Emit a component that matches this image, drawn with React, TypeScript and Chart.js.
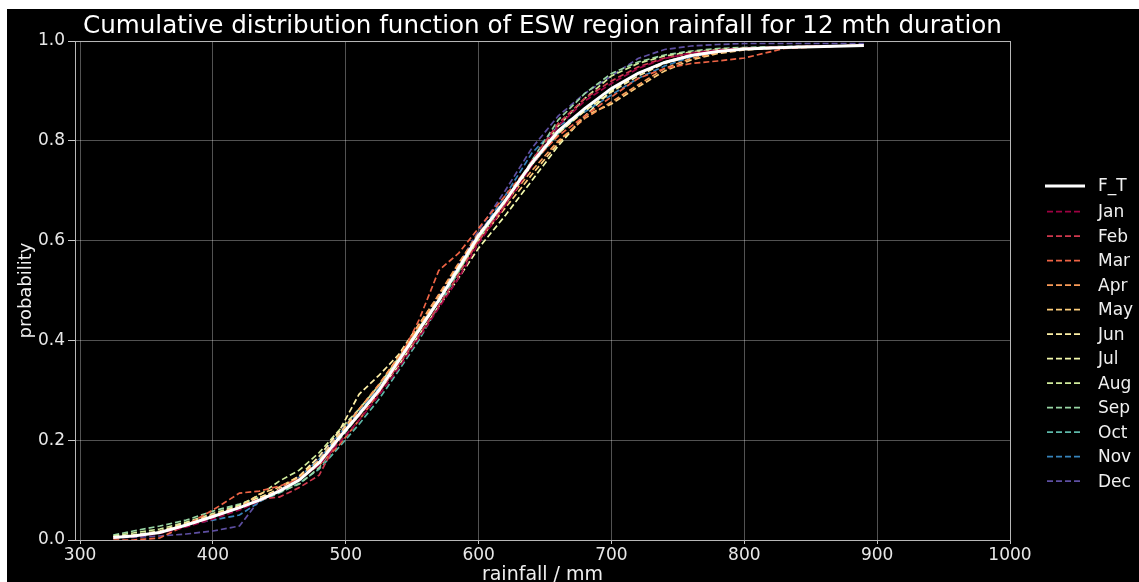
import React, { useEffect, useRef } from "react";
import { Chart, registerables } from "chart.js";

Chart.register(...registerables);

const TITLE = "Cumulative distribution function of ESW region rainfall for 12 mth duration";
const X_LABEL = "rainfall / mm";
const Y_LABEL = "probability";

const RAIN_GRID = [325, 340, 360, 380, 400, 420, 435, 450, 465, 480, 495, 510, 525, 540, 555, 570, 585, 600, 620, 640, 660, 680, 700, 720, 740, 760, 780, 800, 830, 860, 890];

const PROB_FT = [0.005, 0.008, 0.015, 0.030, 0.047, 0.065, 0.080, 0.098, 0.120, 0.155, 0.205, 0.252, 0.300, 0.360, 0.420, 0.480, 0.545, 0.610, 0.680, 0.755, 0.820, 0.865, 0.905, 0.935, 0.957, 0.971, 0.979, 0.984, 0.987, 0.989, 0.991];
const PROB_JAN = [0.005, 0.007, 0.013, 0.026, 0.042, 0.060, 0.078, 0.100, 0.122, 0.150, 0.195, 0.240, 0.290, 0.345, 0.405, 0.465, 0.525, 0.595, 0.670, 0.750, 0.830, 0.880, 0.915, 0.945, 0.965, 0.976, 0.982, 0.985, 0.988, 0.990, 0.991];
const PROB_FEB = [0.004, 0.007, 0.014, 0.028, 0.045, 0.066, 0.082, 0.086, 0.105, 0.130, 0.205, 0.248, 0.296, 0.352, 0.410, 0.470, 0.532, 0.600, 0.672, 0.760, 0.835, 0.885, 0.920, 0.948, 0.966, 0.975, 0.981, 0.985, 0.988, 0.990, 0.991];
const PROB_MAR = [0.000, 0.000, 0.004, 0.030, 0.060, 0.094, 0.098, 0.108, 0.122, 0.150, 0.190, 0.240, 0.295, 0.360, 0.440, 0.540, 0.575, 0.625, 0.690, 0.755, 0.810, 0.850, 0.888, 0.925, 0.945, 0.955, 0.960, 0.966, 0.985, 0.989, 0.991];
const PROB_APR = [0.004, 0.008, 0.016, 0.032, 0.050, 0.066, 0.082, 0.100, 0.124, 0.158, 0.205, 0.262, 0.312, 0.368, 0.430, 0.492, 0.555, 0.615, 0.675, 0.740, 0.800, 0.845, 0.878, 0.912, 0.945, 0.965, 0.977, 0.983, 0.987, 0.989, 0.991];
const PROB_MAY = [0.005, 0.009, 0.016, 0.031, 0.048, 0.066, 0.092, 0.106, 0.128, 0.160, 0.212, 0.262, 0.310, 0.368, 0.428, 0.484, 0.545, 0.600, 0.665, 0.732, 0.795, 0.850, 0.874, 0.908, 0.940, 0.962, 0.975, 0.982, 0.987, 0.989, 0.991];
const PROB_JUN = [0.006, 0.010, 0.018, 0.034, 0.050, 0.068, 0.085, 0.102, 0.128, 0.168, 0.218, 0.292, 0.330, 0.372, 0.432, 0.490, 0.552, 0.612, 0.680, 0.752, 0.815, 0.860, 0.898, 0.930, 0.955, 0.970, 0.979, 0.984, 0.987, 0.989, 0.991];
const PROB_JUL = [0.005, 0.009, 0.017, 0.032, 0.049, 0.067, 0.084, 0.100, 0.120, 0.156, 0.205, 0.252, 0.298, 0.350, 0.410, 0.468, 0.525, 0.585, 0.650, 0.720, 0.790, 0.850, 0.900, 0.935, 0.958, 0.972, 0.980, 0.985, 0.988, 0.990, 0.991];
const PROB_AUG = [0.008, 0.014, 0.022, 0.036, 0.053, 0.070, 0.090, 0.118, 0.140, 0.175, 0.220, 0.262, 0.310, 0.366, 0.425, 0.482, 0.540, 0.602, 0.672, 0.752, 0.830, 0.885, 0.930, 0.955, 0.970, 0.978, 0.983, 0.986, 0.988, 0.990, 0.991];
const PROB_SEP = [0.010, 0.018, 0.028, 0.040, 0.058, 0.072, 0.085, 0.096, 0.112, 0.145, 0.200, 0.250, 0.300, 0.358, 0.418, 0.478, 0.540, 0.605, 0.678, 0.760, 0.842, 0.895, 0.935, 0.958, 0.972, 0.980, 0.985, 0.987, 0.989, 0.990, 0.991];
const PROB_OCT = [0.004, 0.008, 0.015, 0.030, 0.046, 0.064, 0.078, 0.094, 0.114, 0.142, 0.186, 0.232, 0.282, 0.340, 0.400, 0.470, 0.538, 0.605, 0.678, 0.752, 0.815, 0.862, 0.902, 0.935, 0.958, 0.972, 0.980, 0.985, 0.988, 0.990, 0.991];
const PROB_NOV = [0.005, 0.009, 0.016, 0.030, 0.040, 0.050, 0.076, 0.100, 0.126, 0.162, 0.212, 0.258, 0.305, 0.362, 0.422, 0.482, 0.545, 0.612, 0.690, 0.775, 0.830, 0.858, 0.892, 0.925, 0.950, 0.968, 0.978, 0.984, 0.987, 0.989, 0.991];
const PROB_DEC = [0.005, 0.005, 0.008, 0.012, 0.018, 0.028, 0.080, 0.102, 0.128, 0.165, 0.215, 0.262, 0.308, 0.364, 0.425, 0.487, 0.552, 0.620, 0.700, 0.785, 0.850, 0.895, 0.930, 0.965, 0.983, 0.990, 0.993, 0.995, 0.995, 0.995, 0.995];

const MONTHS = ["Jan", "Feb", "Mar", "Apr", "May", "Jun", "Jul", "Aug", "Sep", "Oct", "Nov", "Dec"];
const MONTH_PROBS = [PROB_JAN, PROB_FEB, PROB_MAR, PROB_APR, PROB_MAY, PROB_JUN, PROB_JUL, PROB_AUG, PROB_SEP, PROB_OCT, PROB_NOV, PROB_DEC];
const MONTH_COLORS = ["#9e0142", "#d0384e", "#ee6445", "#fb9c59", "#fece7c", "#fff1a7", "#f4faad", "#d1ec9c", "#98d6a4", "#5db8a9", "#3683bb", "#5e4fa2"];

const X_TICKS = [300, 400, 500, 600, 700, 800, 900, 1000];
const Y_TICKS = [0, 0.2, 0.4, 0.6, 0.8, 1.0];

const FONT = "DejaVu Sans";

const frameAndLegend = {
  id: "frameAndLegend",
  afterDatasetsDraw(chart: any) {
    const { ctx, chartArea } = chart;
    ctx.save();
    ctx.strokeStyle = "#b8b8b8";
    ctx.lineWidth = 1;
    ctx.setLineDash([]);
    ctx.strokeRect(chartArea.left + 0.5, chartArea.top + 0.5, chartArea.right - chartArea.left, chartArea.bottom - chartArea.top);
    ctx.restore();
  },
  afterDraw(chart: any) {
    const { ctx, chartArea } = chart;
    const x0 = chartArea.right + 35;
    const x1 = x0 + 40;
    const tx = x0 + 53;
    ctx.save();
    ctx.font = `17px "${FONT}"`;
    ctx.textBaseline = "middle";
    ctx.textAlign = "left";
    chart.data.datasets.forEach((ds: any, i: number) => {
      const y = i === 0 ? 177 : 202.7 + (i - 1) * 24.5;
      ctx.beginPath();
      ctx.strokeStyle = ds.borderColor;
      ctx.lineWidth = ds.borderWidth;
      ctx.setLineDash(ds.borderDash || []);
      const a = i === 0 ? x0 : x0 + 2;
      const b = i === 0 ? x1 : x1 - 2;
      ctx.moveTo(a, y);
      ctx.lineTo(b, y);
      ctx.stroke();
      ctx.setLineDash([]);
      ctx.fillStyle = "#f0f0f0";
      ctx.fillText(ds.label, tx, y + 1);
    });
    ctx.restore();
  },
};

export default function App() {
  const canvasRef = useRef<HTMLCanvasElement | null>(null);

  useEffect(() => {
    if (!canvasRef.current) return;
    const datasets: any[] = [
      {
        label: "F_T",
        data: RAIN_GRID.map((x, i) => ({ x, y: PROB_FT[i] })),
        borderColor: "#ffffff",
        borderWidth: 3,
        pointRadius: 0,
        tension: 0,
      },
      ...MONTHS.map((m, k) => ({
        label: m,
        data: RAIN_GRID.map((x, i) => ({ x, y: MONTH_PROBS[k][i] })),
        borderColor: MONTH_COLORS[k],
        borderWidth: 1.7,
        borderDash: [6, 3],
        pointRadius: 0,
        tension: 0,
      })),
    ];

    const chart = new Chart(canvasRef.current, {
      type: "line",
      data: { datasets },
      options: {
        animation: false,
        responsive: true,
        maintainAspectRatio: false,
        layout: { padding: { left: 0, right: 129, top: 0, bottom: 0 } },
        plugins: {
          legend: { display: false },
          tooltip: { enabled: false },
          title: {
            display: true,
            text: TITLE,
            color: "#ffffff",
            fullSize: false,
            font: { family: FONT, size: 24.6, weight: "normal" },
            padding: { top: 2.5, bottom: 0 },
          },
        },
        scales: {
          x: {
            type: "linear",
            min: 296.2,
            max: 1000,
            afterBuildTicks: (scale: any) => {
              scale.ticks = X_TICKS.map((v) => ({ value: v }));
            },
            afterFit: (scale: any) => {
              scale.height = 42;
            },
            grid: {
              color: "rgba(255,255,255,0.32)",
              tickColor: "#c8c8c8",
              tickLength: 4,
              lineWidth: 1,
            },
            border: { display: false },
            ticks: {
              color: "#e8e8e8",
              padding: 1,
              font: { family: FONT, size: 17 },
              maxRotation: 0,
              callback: (v: any) => String(v),
            },
            title: {
              display: true,
              text: X_LABEL,
              color: "#f0f0f0",
              font: { family: FONT, size: 19 },
              padding: { top: 0, bottom: -4 },
            },
          },
          y: {
            type: "linear",
            min: 0,
            max: 1,
            afterBuildTicks: (scale: any) => {
              scale.ticks = Y_TICKS.map((v) => ({ value: v }));
            },
            afterFit: (scale: any) => {
              scale.width = 68;
            },
            grid: {
              color: "rgba(255,255,255,0.32)",
              tickColor: "#c8c8c8",
              tickLength: 7,
              lineWidth: 1,
            },
            border: { display: false },
            ticks: {
              color: "#e8e8e8",
              padding: 3,
              font: { family: FONT, size: 17 },
              callback: (v: any) => Number(v).toFixed(1),
            },
            title: {
              display: true,
              text: Y_LABEL,
              color: "#f0f0f0",
              font: { family: FONT, size: 18 },
              padding: { top: 9, bottom: 0 },
            },
          },
        },
      },
      plugins: [frameAndLegend],
    });
    return () => chart.destroy();
  }, []);

  return (
    <div
      style={{
        position: "absolute",
        left: 7,
        top: 9,
        width: 1132,
        height: 573,
        background: "#000000",
      }}
    >
      <canvas ref={canvasRef} />
    </div>
  );
}
